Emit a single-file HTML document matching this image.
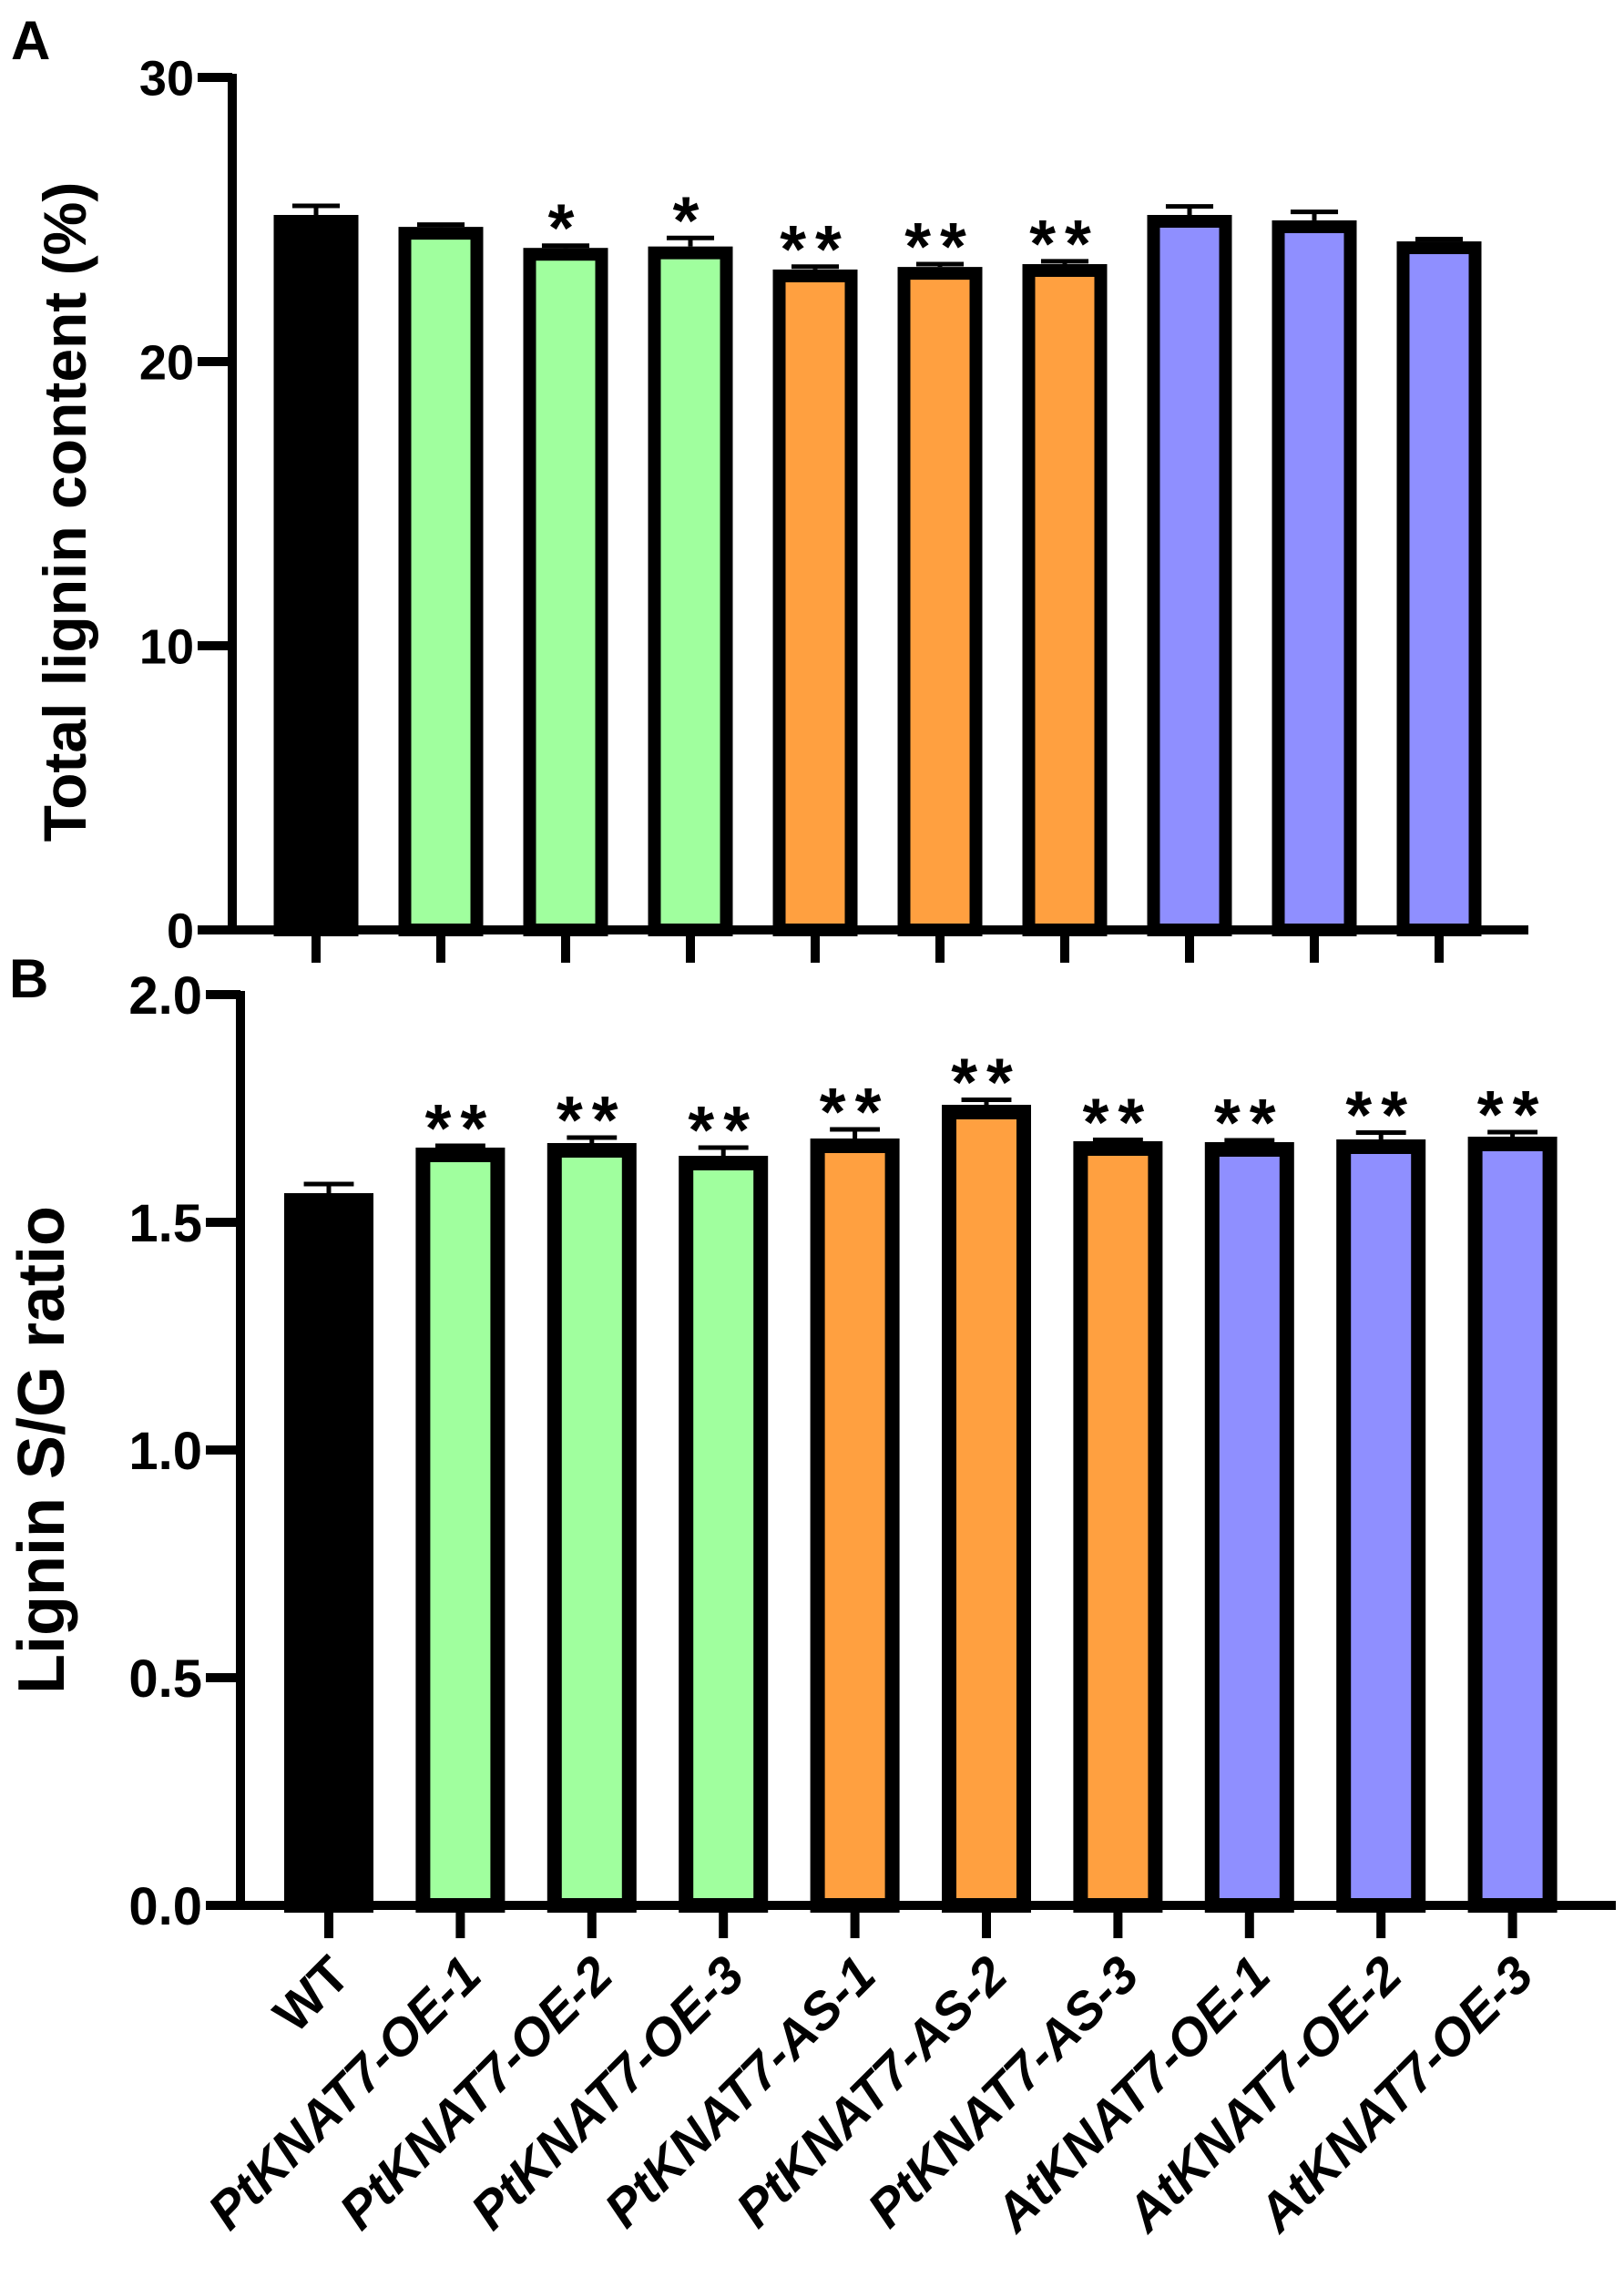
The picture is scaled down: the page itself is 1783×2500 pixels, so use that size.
<!DOCTYPE html>
<html><head><meta charset="utf-8"><style>
html,body{margin:0;padding:0;background:#fff}
svg{display:block}
text{font-family:"Liberation Sans",Arial,sans-serif;font-weight:bold;fill:#000}
</style></head><body>
<svg id="fig" width="1783" height="2500" viewBox="0 0 1783 2500" xmlns="http://www.w3.org/2000/svg">
<text x="12" y="65" font-size="60">A</text>
<text x="10" y="1095" font-size="60">B</text>
<text transform="translate(94,562) rotate(-90)" text-anchor="middle" font-size="66">Total lignin content (%)</text>
<text transform="translate(70,1592) rotate(-90)" text-anchor="middle" font-size="72">Lignin S/G ratio</text>
<g id="chartA"></g>
<g id="chartB"></g>
<g id="xlabels"></g>
</svg>
<script>
const categories = ["WT","PtKNAT7-OE-1","PtKNAT7-OE-2","PtKNAT7-OE-3","PtKNAT7-AS-1","PtKNAT7-AS-2","PtKNAT7-AS-3","AtKNAT7-OE-1","AtKNAT7-OE-2","AtKNAT7-OE-3"];
const colors = ["#000000","#a0ff9e","#a0ff9e","#a0ff9e","#ffa040","#ffa040","#ffa040","#8f8fff","#8f8fff","#8f8fff"];
const ligninValues = [25.16,24.74,24.0,24.05,23.24,23.33,23.43,25.16,24.97,24.23];
const ligninErrors = [0.32,0.08,0.08,0.3,0.1,0.1,0.1,0.3,0.3,0.08];
const ligninSig = ["","","*","*","**","**","**","","",""];
const ligninTicks = [0,10,20,30];
const sgValues = [1.564,1.664,1.674,1.646,1.684,1.758,1.678,1.676,1.682,1.688];
const sgErrors = [0.02,0.004,0.012,0.018,0.02,0.011,0.003,0.004,0.015,0.01];
const sgSig = ["","**","**","**","**","**","**","**","**","**"];
const sgTicks = [0.0,0.5,1.0,1.5,2.0];
const sgTickLabels = ["0.0","0.5","1.0","1.5","2.0"];

const NS="http://www.w3.org/2000/svg";
function mk(tag,attrs,parent){const e=document.createElementNS(NS,tag);for(const k in attrs)e.setAttribute(k,attrs[k]);parent.appendChild(e);return e;}

function drawChart(g,cfg){
  const y=v=>cfg.y0-(v-cfg.vmin)/(cfg.vmax-cfg.vmin)*(cfg.y0-cfg.y1);
  const x=i=>cfg.c0+i*cfg.pitch;
  let ax=mk('line',{x1:cfg.ax,y1:y(cfg.vmax)-4,x2:cfg.ax,y2:cfg.y0+5,stroke:'#000','stroke-width':10},g);
  
  
  let xl=mk('line',{x1:cfg.ax-5,y1:cfg.y0,x2:cfg.xend,y2:cfg.y0,stroke:'#000','stroke-width':10},g);
  
  
  cfg.ticks.forEach((t,k)=>{
    const tl=mk('line',{x1:cfg.ax-38,y1:y(t),x2:cfg.ax,y2:y(t),stroke:'#000','stroke-width':10},g);
    
    
    const tx=mk('text',{x:cfg.ax-42,y:y(t)+cfg.tfs*0.36,'text-anchor':'end','font-size':cfg.tfs},g);
    tx.textContent=cfg.tickLabels[k];
    
    
  });
  cfg.values.forEach((v,i)=>{
    const cx=x(i), bw=cfg.bw, sw=cfg.sw;
    const top=y(v);
    const et=y(v+cfg.errors[i]);
    const eb=mk('line',{x1:cx,y1:et,x2:cx,y2:top,stroke:'#000','stroke-width':5},g);
    
    
    const ec=mk('line',{x1:cx-bw*0.28,y1:et,x2:cx+bw*0.28,y2:et,stroke:'#000','stroke-width':5},g);
    
    
    const r=mk('rect',{x:cx-bw/2+sw/2,y:top+sw/2,width:bw-sw,height:cfg.y0-top-sw/2,fill:cfg.colors[i],stroke:'#000','stroke-width':sw},g);
    
    
    const tk=mk('line',{x1:cx,y1:cfg.y0,x2:cx,y2:cfg.y0+36,stroke:'#000','stroke-width':10},g);
    
    
    if(cfg.sig[i]){
      const s=mk('text',{x:cx,y:et+6,'text-anchor':'middle','font-size':74,'font-weight':'normal','letter-spacing':'10'},g);
      s.textContent=cfg.sig[i];
      
      
    }
  });
  return x;
}
drawChart(document.getElementById('chartA'),{vmin:0,vmax:30,y0:1021,y1:85,ax:255,xend:1678,c0:347,pitch:137,bw:93,sw:14,tfs:54,
  values:ligninValues,errors:ligninErrors,sig:ligninSig,ticks:ligninTicks,tickLabels:ligninTicks.map(String),colors:colors,cats:categories});
const xB=drawChart(document.getElementById('chartB'),{vmin:0,vmax:2,y0:2092,y1:1092,ax:264,xend:1774,c0:361,pitch:144.4,bw:98,sw:16,tfs:58,
  values:sgValues,errors:sgErrors,sig:sgSig,ticks:sgTicks,tickLabels:sgTickLabels,colors:colors,cats:categories});
const lg=document.getElementById('xlabels');
categories.forEach((c,i)=>{
  const cx=xB(i)+26, cy=2172;
  const t=mk('text',{transform:`translate(${cx},${cy}) rotate(-45)`,'text-anchor':'end','font-size':57,'font-style':i===0?'normal':'italic'},lg);
  t.textContent=c;
  
  
});
</script>
</body></html>
